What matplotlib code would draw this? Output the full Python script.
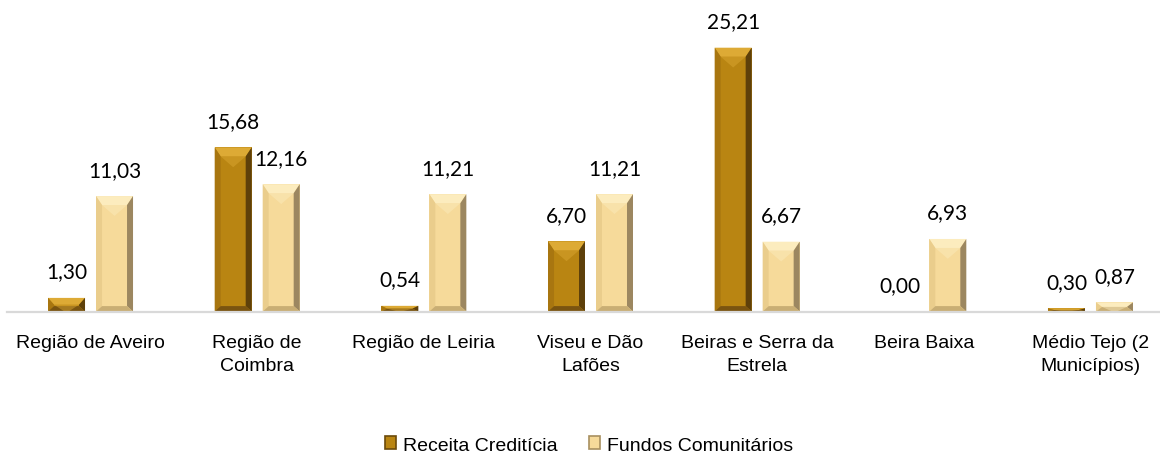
import matplotlib
matplotlib.use("Agg")
import matplotlib.pyplot as plt
from matplotlib.patches import Polygon

categories = ["Região de Aveiro", "Região de\nCoimbra", "Região de Leiria", "Viseu e Dão\nLafões",
              "Beiras e Serra da\nEstrela", "Beira Baixa", "Médio Tejo (2\nMunicípios)"]
receita = [1.30, 15.68, 0.54, 6.70, 25.21, 0.00, 0.30]
fundos = [11.03, 12.16, 11.21, 11.21, 6.67, 6.93, 0.87]
series_names = ["Receita Creditícia", "Fundos Comunitários"]

# colours: face, top facet, left, right, bottom
dark = dict(face="#B98512", top="#DDAA35", left="#A87610", right="#5E400A", bottom="#7A5410", edge="#6B4A0A")
light = dict(face="#F6DA9A", top="#FCECBE", left="#EACD8C", right="#9C8760", bottom="#C9AE74", edge="#A89060")

fig = plt.figure(figsize=(11.6, 4.56), dpi=100)
ax = fig.add_axes([7.2 / 1160, 1 - 312.5 / 456, 1166.6 / 1160, 293 / 456])

x = list(range(len(categories)))
w = 0.222
off = 0.144
b1 = ax.bar([i - off for i in x], receita, w, color=dark["face"], label=series_names[0])
b2 = ax.bar([i + off for i in x], fundos, w, color=light["face"], label=series_names[1])
ax.set_xlim(-0.5, len(categories) - 0.5)
ax.set_ylim(0, 28)

# bevel facets, sized in pixels
px_x = 6.0 / (1166.6 / len(categories))
px_y = 9.0 / (293 / 28)
for bars, c in ((b1, dark), (b2, light)):
    for r in bars:
        x0, y0 = r.get_x(), r.get_y()
        x1, y1 = x0 + r.get_width(), y0 + r.get_height()
        if r.get_height() <= 0:
            continue
        bx = px_x
        by = min(px_y, r.get_height() / 2)
        bb = min(px_y * 0.6, r.get_height() / 2)
        facets = [
            ([(x0, y1), (x1, y1), (x1 - bx, y1 - by), (x0 + bx, y1 - by)], c["top"]),
            ([(x0, y0), (x0 + bx, y0 + bb), (x0 + bx, y1 - by), (x0, y1)], c["left"]),
            ([(x1, y0), (x1, y1), (x1 - bx, y1 - by), (x1 - bx, y0 + bb)], c["right"]),
            ([(x0, y0), (x1, y0), (x1 - bx, y0 + bb), (x0 + bx, y0 + bb)], c["bottom"]),
        ]
        for pts, col in facets:
            ax.add_patch(Polygon(pts, closed=True, facecolor=col, edgecolor="none"))
        # the chevron highlight under the top facet
        mid = (x0 + x1) / 2
        ax.add_patch(Polygon([(x0 + bx, y1 - by), (x1 - bx, y1 - by), (mid, y1 - 2.2 * by)],
                             closed=True, facecolor=c["top"], edgecolor="none", alpha=0.45))

for bars, vals in ((b1, receita), (b2, fundos)):
    for r, v in zip(bars, vals):
        ax.annotate(f"{v:.2f}".replace(".", ","), (r.get_x() + r.get_width() / 2, r.get_height()),
                    xytext=(0, 19), textcoords="offset points", ha="center", va="center",
                    fontsize=15, family="Lato", color="#000000")

for s in ("top", "right", "left"):
    ax.spines[s].set_visible(False)
ax.spines["bottom"].set_color("#d9d9d9")
ax.spines["bottom"].set_linewidth(1.6)
ax.set_yticks([])
ax.set_xticks(x)
ax.set_xticklabels(categories, fontsize=14, family="Liberation Sans", linespacing=1.45)
ax.tick_params(axis="x", length=0, pad=16)

leg = fig.legend(handles=[b1, b2], loc="center", bbox_to_anchor=(589 / 1160, 1 - 446 / 456), ncol=2,
                 frameon=False, prop={"family": "Liberation Sans", "size": 14},
                 handlelength=0.6, handleheight=0.6, handletextpad=0.35, columnspacing=1.6)
for h, c in zip(leg.legend_handles, (dark, light)):
    h.set_edgecolor(c["edge"])
    h.set_linewidth(1.2)

fig.savefig("out.png", dpi=100)
